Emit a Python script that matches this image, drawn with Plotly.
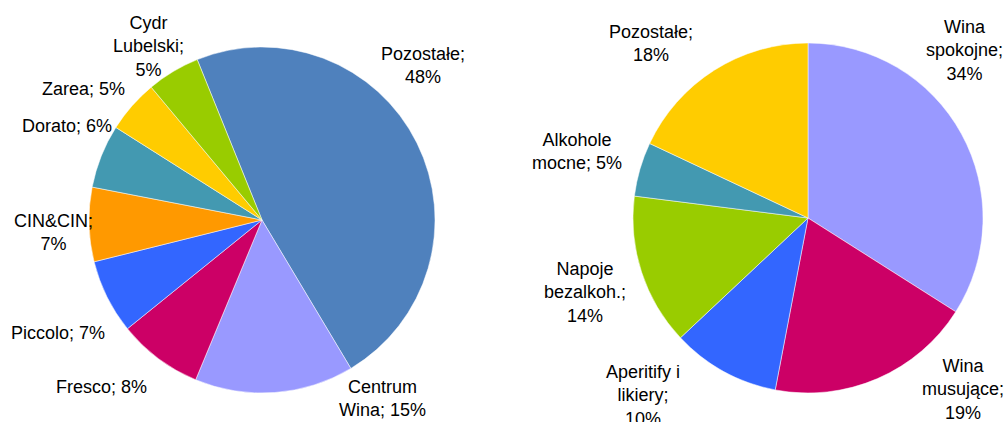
import plotly.graph_objects as go

W, H = 1007, 422

# left pie: market shares of brands
left_names = ["Pozostałe", "Centrum<br>Wina", "Fresco", "Piccolo", "CIN&CIN",
              "Dorato", "Zarea", "Cydr<br>Lubelski"]
left_values = [48, 15, 8, 7, 7, 6, 5, 5]
left_colors = ["#4F81BD", "#9999FF", "#CC0066", "#3366FF", "#FF9900",
               "#4399B1", "#FFCC00", "#99CC00"]
left_breaks = ["<br>", " ", " ", " ", "<br>", " ", " ", "<br>"]
# label centres, pixels (x, y from top)
left_label_pos = [(423, 66), (382, 398), (101, 387), (58, 333), (53, 232),
                  (67, 126), (83, 89), (148, 47)]

# right pie: product categories
right_names = ["Wina<br>spokojne", "Wina<br>musujące", "Aperitify i<br>likiery",
               "Napoje<br>bezalkoh.", "Alkohole<br>mocne", "Pozostałe"]
right_values = [34, 19, 10, 14, 5, 18]
right_colors = ["#9999FF", "#CC0066", "#3366FF", "#99CC00", "#4399B1", "#FFCC00"]
right_breaks = ["<br>", "<br>", "<br>", "<br>", " ", "<br>"]
right_label_pos = [(964, 51), (963, 389), (643, 395), (585, 292), (577, 152),
                   (651, 44)]


def px_domain(cx, cy, r):
    return dict(x=[(cx - r) / W, (cx + r) / W],
                y=[(H - cy - r) / H, (H - cy + r) / H])


fig = go.Figure()
fig.add_trace(go.Pie(
    labels=[n.replace("<br>", " ") for n in left_names],
    values=left_values,
    marker=dict(colors=left_colors, line=dict(color="white", width=0.5)),
    sort=False, direction="clockwise", rotation=-22,
    textinfo="none", hoverinfo="label+value",
    domain=px_domain(262, 220, 173),
    showlegend=False,
))
fig.add_trace(go.Pie(
    labels=[n.replace("<br>", " ") for n in right_names],
    values=right_values,
    marker=dict(colors=right_colors, line=dict(color="white", width=0.5)),
    sort=False, direction="clockwise", rotation=0,
    textinfo="none", hoverinfo="label+value",
    domain=px_domain(808, 218, 175),
    showlegend=False,
))

annotations = []
for names, values, breaks, pos in [
    (left_names, left_values, left_breaks, left_label_pos),
    (right_names, right_values, right_breaks, right_label_pos),
]:
    for name, val, br, (x, y) in zip(names, values, breaks, pos):
        annotations.append(dict(
            text=f"{name};{br}{val}%",
            x=x / W, y=1 - y / H, xref="paper", yref="paper",
            xanchor="center", yanchor="middle", showarrow=False,
            align="center",
            font=dict(family="Arial, Liberation Sans, sans-serif", size=18,
                      color="#000000"),
        ))

fig.update_layout(
    width=W, height=H,
    margin=dict(l=0, r=0, t=0, b=0),
    paper_bgcolor="white",
    plot_bgcolor="white",
    annotations=annotations,
)

# drop the default body margin so the figure sits at the window's corner
fig.write_html("out.html", config={"displayModeBar": False},
               post_script="document.body.style.margin='0';")
